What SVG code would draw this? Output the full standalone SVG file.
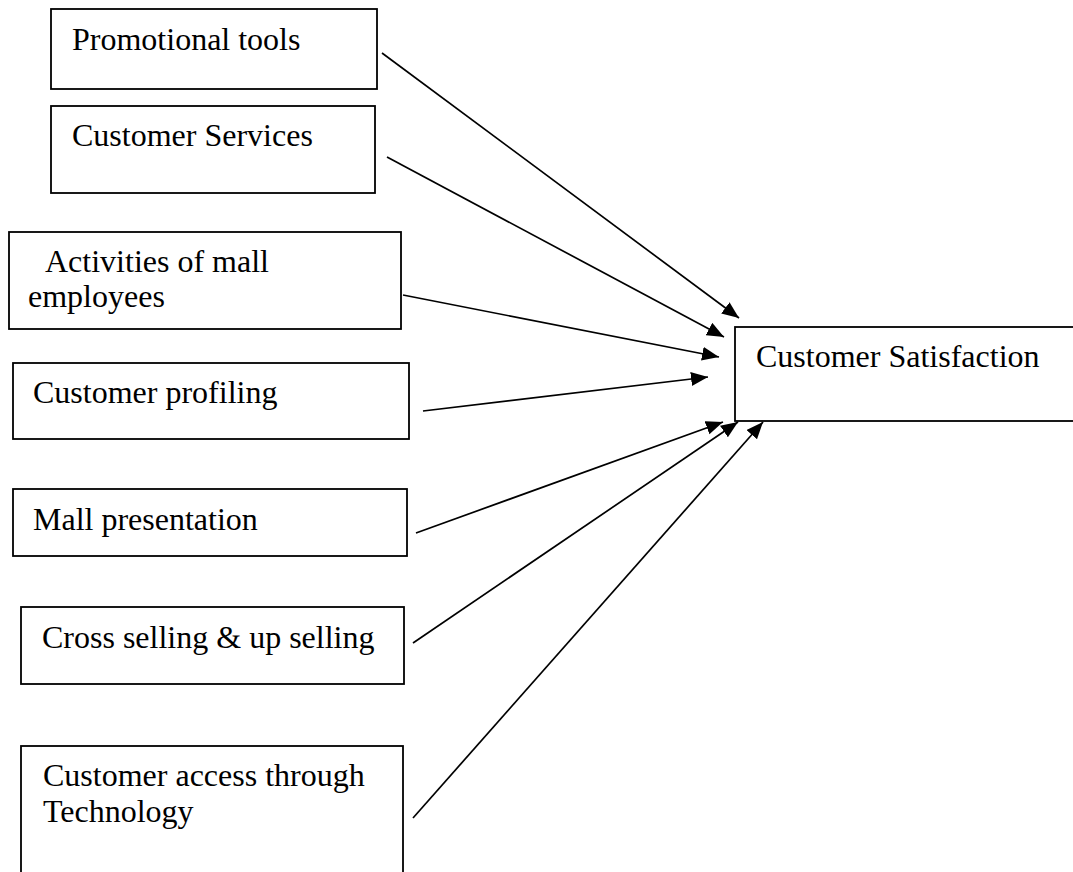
<svg xmlns="http://www.w3.org/2000/svg" width="1073" height="872" viewBox="0 0 1073 872">
  <style>
    .box { fill: #ffffff; stroke: #000000; stroke-width: 1.8; }
    .label { font-family: "Liberation Serif", "Times New Roman", serif; font-size: 32px; fill: #000000; }
    .link { stroke: #000000; stroke-width: 1.7; fill: none; marker-end: url(#arrow); }
  </style>
  <defs>
    <marker id="arrow" markerUnits="userSpaceOnUse" markerWidth="18" markerHeight="15" refX="17" refY="7" orient="auto">
      <path d="M0,0 L17,7 L0,14 Z" fill="#000000"/>
    </marker>
  </defs>
  <rect width="1073" height="872" fill="#ffffff"/>

  <g id="promotional-tools">
    <rect class="box" x="51" y="9" width="326" height="80"/>
    <text class="label" x="72" y="50">Promotional tools</text>
  </g>
  <g id="customer-services">
    <rect class="box" x="51" y="106" width="324" height="87"/>
    <text class="label" x="72" y="146">Customer Services</text>
  </g>
  <g id="mall-employees">
    <rect class="box" x="9" y="232" width="392" height="97"/>
    <text class="label" x="45" y="272">Activities of mall</text>
    <text class="label" x="28" y="307">employees</text>
  </g>
  <g id="customer-profiling">
    <rect class="box" x="13" y="363" width="396" height="76"/>
    <text class="label" x="33" y="403">Customer profiling</text>
  </g>
  <g id="mall-presentation">
    <rect class="box" x="13" y="489" width="394" height="67"/>
    <text class="label" x="33" y="530">Mall presentation</text>
  </g>
  <g id="cross-selling">
    <rect class="box" x="21" y="607" width="383" height="77"/>
    <text class="label" x="42" y="648">Cross selling &amp; up selling</text>
  </g>
  <g id="customer-access">
    <rect class="box" x="21" y="746" width="382" height="200"/>
    <text class="label" x="43" y="786">Customer access through</text>
    <text class="label" x="43" y="822">Technology</text>
  </g>
  <g id="customer-satisfaction">
    <rect class="box" x="735" y="327" width="400" height="94"/>
    <text class="label" x="756" y="367">Customer Satisfaction</text>
  </g>

  <g id="connectors">
    <line class="link" x1="382" y1="53" x2="739" y2="318"/>
    <line class="link" x1="387" y1="157" x2="724" y2="337"/>
    <line class="link" x1="403" y1="295" x2="719" y2="357"/>
    <line class="link" x1="423" y1="411" x2="708" y2="377"/>
    <line class="link" x1="416" y1="533" x2="723" y2="422"/>
    <line class="link" x1="413" y1="643" x2="738" y2="422"/>
    <line class="link" x1="413" y1="818" x2="763" y2="422"/>
  </g>
</svg>
